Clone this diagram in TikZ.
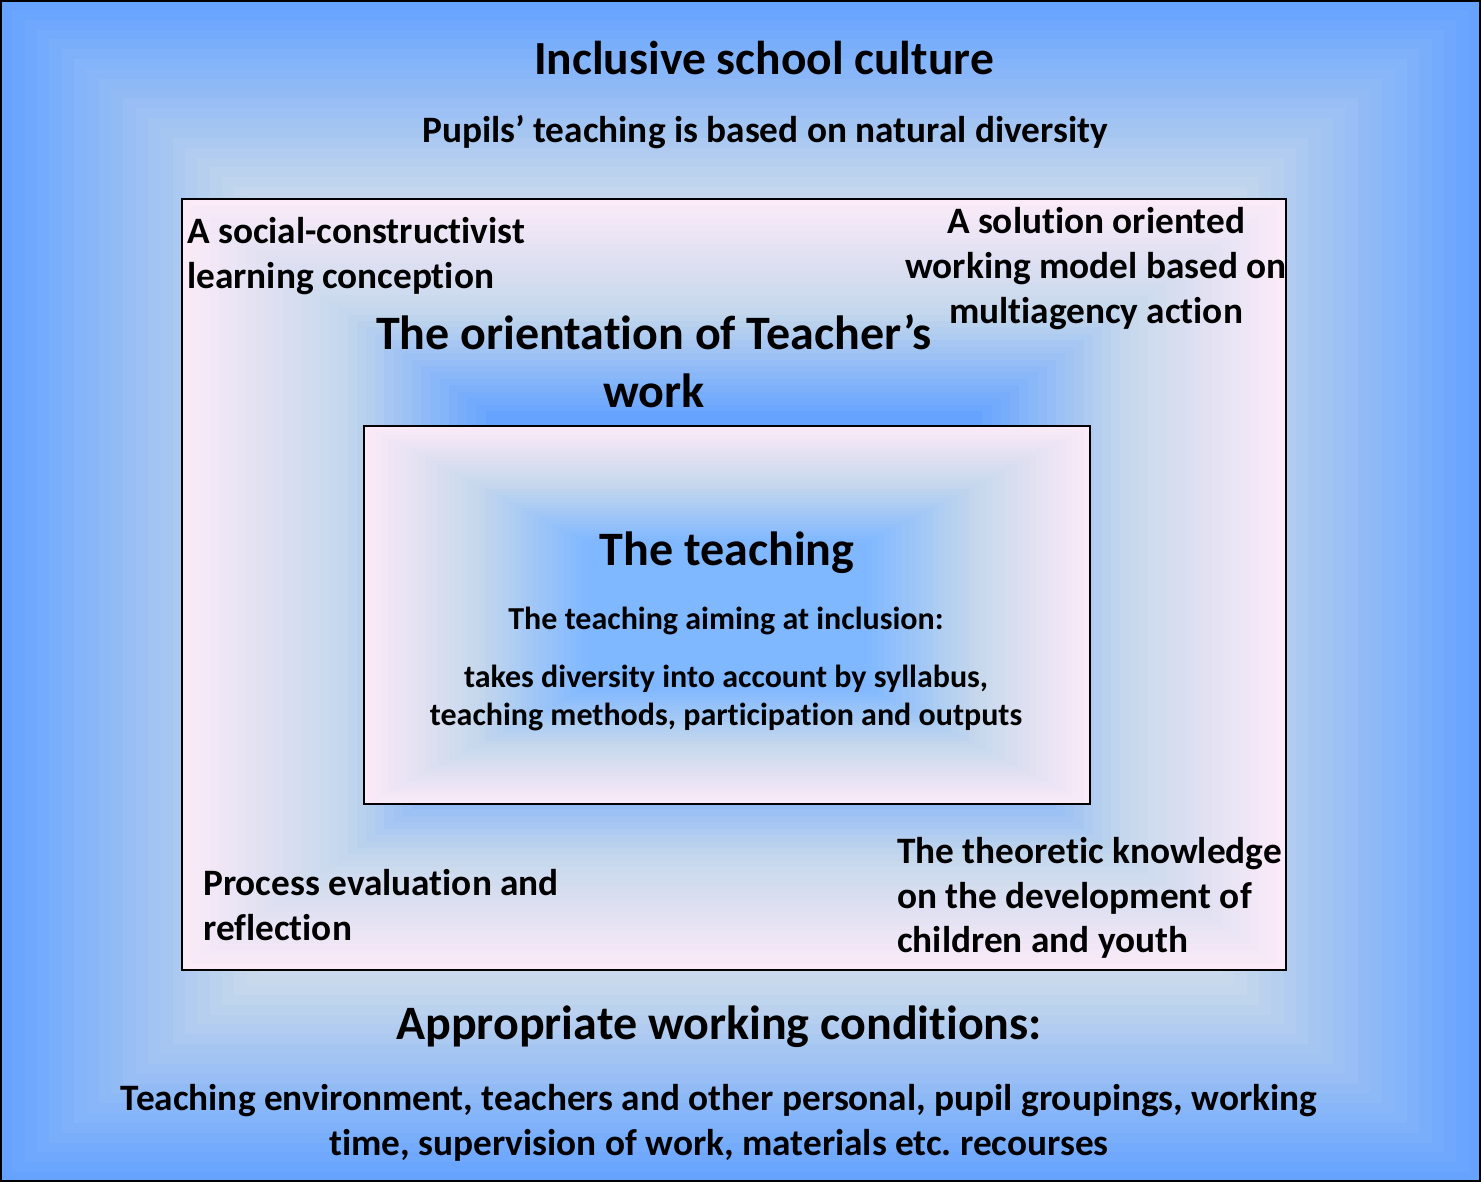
\documentclass[tikz,border=0pt]{standalone}
\usepackage{fontspec}
\setmainfont{Carlito}[Ligatures={NoCommon}]
\frenchspacing
\definecolor{gblue}{RGB}{102,163,255}
\definecolor{gcore}{RGB}{128,184,255}
\definecolor{gmid}{RGB}{198,216,236}
\definecolor{gpink}{RGB}{251,234,248}

% Rectangular "from centre" gradient built from nested rectangles.
% #1,#2 centre; #3,#4 half sizes; #5 edge colour; #6 middle colour;
% #7 centre colour; #8 position of middle stop; #9 position where centre colour is reached
\newcommand\gradrect[9]{%
  \foreach \i in {0,...,59}{%
    \pgfmathsetmacro\gradt{1-\i/60}%
    \pgfmathtruncatemacro\gradpa{min(100,max(0,100*(1-\gradt)/(1-#8)))}%
    \pgfmathtruncatemacro\gradpb{min(100,max(0,100*(#8-\gradt)/(#8-#9)))}%
    \colorlet{gradA}{#6!\gradpa!#5}%
    \colorlet{gradB}{#7!\gradpb!gradA}%
    \fill[gradB] ({#1-\gradt*#3},{#2-\gradt*#4}) rectangle ({#1+\gradt*#3},{#2+\gradt*#4});
  }}

\tikzset{
  lbl/.style={font=\bfseries, inner sep=0pt},
  frame/.style={draw=black, line width=1.5pt},
}

\begin{document}
\begin{tikzpicture}[x=1pt,y=-1pt]
\useasboundingbox (0,0) rectangle (1481,1182);

% outer area: school culture
\gradrect{740.5}{591}{740.5}{591}{gblue}{gmid}{gpink}{0.68}{0.35}
\draw[line width=2pt] (1,1) rectangle (1480,1181);

% middle frame: orientation of the teacher's work
\gradrect{734}{584.5}{552}{385.5}{gpink}{gmid}{gblue}{0.72}{0.45}
\draw[frame] (182,199) rectangle (1286,970);

% inner frame: the teaching
\gradrect{727}{615}{363}{189}{gpink}{gmid}{gcore}{0.7}{0.4}
\draw[frame] (364,426) rectangle (1090,804);

% texts of the outer area
\node[lbl, font=\bfseries\fontsize{47.5}{56}\selectfont] (culture) at (764,58) {Inclusive school culture};
\node[lbl, font=\bfseries\fontsize{37.3}{45}\selectfont] (diversity) at (765,132) {Pupils’ teaching is based on natural diversity};
\node[lbl, font=\bfseries\fontsize{48}{56}\selectfont] (conditions) at (719,1027) {Appropriate working conditions:};
\node[lbl, font=\bfseries\fontsize{37.3}{44.5}\selectfont, align=center] (resources) at (719,1123)
  {Teaching environment, teachers and other personal, pupil groupings, working\\time, supervision of work, materials etc. recourses};

% texts of the middle frame
\node[lbl, font=\bfseries\fontsize{37.3}{45}\selectfont, align=left, anchor=west] (social) at (187,256.5)
  {A social-constructivist\\learning conception};
\node[lbl, font=\bfseries\fontsize{37.3}{45}\selectfont, align=center] (solution) at (1096,268.5)
  {A solution oriented\\working model based on\\multiagency action};
\node[lbl, font=\bfseries\fontsize{48}{58}\selectfont, align=center] (orientation) at (654,361)
  {The orientation of Teacher’s\\work};
\node[lbl, font=\bfseries\fontsize{37.3}{45}\selectfont, align=left, anchor=west] (process) at (203,905)
  {Process evaluation and\\reflection};
\node[lbl, font=\bfseries\fontsize{37.3}{44.5}\selectfont, align=left, anchor=west] (theory) at (897,898)
  {The theoretic knowledge\\on the development of\\children and youth};

% texts of the inner frame
\node[lbl, font=\bfseries\fontsize{48}{56}\selectfont] (teaching) at (727,553) {The teaching};
\node[lbl, font=\bfseries\fontsize{32}{38}\selectfont] (aiming) at (726,621) {The teaching aiming at inclusion:};
\node[lbl, font=\bfseries\fontsize{32}{38}\selectfont, align=center] (takes) at (726,698)
  {takes diversity into account by syllabus,\\teaching methods, participation and outputs};
\end{tikzpicture}
\end{document}
